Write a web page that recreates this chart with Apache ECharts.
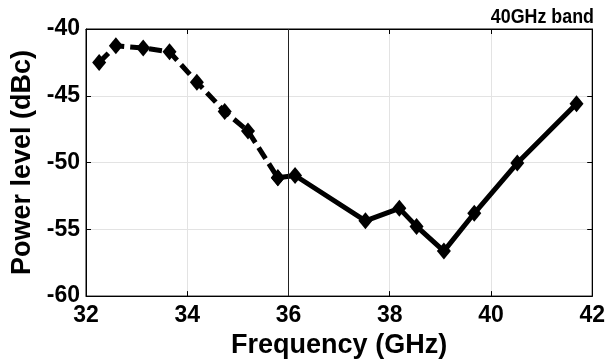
<!DOCTYPE html>
<html>
<head>
<meta charset="utf-8">
<script src="https://cdn.jsdelivr.net/npm/echarts@6/dist/echarts.min.js"></script>
<style>html,body{margin:0;padding:0;background:#fff}#c{width:608px;height:364px}</style>
</head>
<body>
<div id="c"></div>
<script>
// Data
var dashedFreq  = [32.26, 32.59, 33.13, 33.65, 34.19, 34.74, 35.20, 35.79];
var dashedPower = [-42.5, -41.25, -41.42, -41.71, -43.98, -46.18, -47.64, -51.14];
var solidFreq   = [35.79, 36.13, 37.52, 38.19, 38.53, 39.07, 39.67, 40.52, 41.69];
var solidPower  = [-51.14, -50.97, -54.36, -53.43, -54.78, -56.63, -53.80, -50.04, -45.59];
var xTicks = [32, 34, 36, 38, 40, 42];
var yTicks = [-60, -55, -50, -45, -40];
var markerX = 36;
var bandLabel = '40GHz band';
var xTitle = 'Frequency (GHz)';
var yTitle = 'Power level (dBc)';

function pairs(xs, ys) { return xs.map(function (x, i) { return [x, ys[i]]; }); }

var FONT = '"Liberation Sans", Arial, sans-serif';
var chart = echarts.init(document.getElementById('c'), null, {renderer: 'canvas'});
var tickLabel = {color: '#000', fontFamily: FONT, fontWeight: 'bold', fontSize: 23};
chart.setOption({
  animation: false,
  backgroundColor: '#fff',
  grid: {left: 86, right: 14, top: 29, bottom: 62, show: true, borderColor: '#000', borderWidth: 1},
  graphic: [{
    type: 'text', right: 14, top: 7, scaleX: 0.85,
    style: {text: bandLabel, fill: '#000', font: 'bold 21px "Liberation Sans", Arial, sans-serif'}
  }],
  xAxis: [{
    type: 'value', min: xTicks[0], max: xTicks[xTicks.length - 1], interval: 2,
    name: xTitle, nameLocation: 'middle', nameGap: 33,
    nameTextStyle: {color: '#000', fontFamily: FONT, fontWeight: 'bold', fontSize: 27},
    axisLine: {show: true, lineStyle: {color: '#000', width: 1}},
    axisTick: {show: true, inside: true, length: 5, lineStyle: {color: '#000'}},
    axisLabel: Object.assign({margin: 8}, tickLabel),
    splitLine: {show: true, lineStyle: {color: '#e3e3e3', width: 1}}
  }, {
    type: 'value', position: 'top', min: xTicks[0], max: xTicks[xTicks.length - 1], interval: 2,
    axisLine: {show: true, lineStyle: {color: '#000'}},
    axisTick: {show: true, inside: true, length: 5, lineStyle: {color: '#000'}},
    axisLabel: {show: false}, splitLine: {show: false}
  }],
  yAxis: [{
    type: 'value', min: yTicks[0], max: yTicks[yTicks.length - 1], interval: 5,
    name: yTitle, nameLocation: 'middle', nameGap: 49,
    nameTextStyle: {color: '#000', fontFamily: FONT, fontWeight: 'bold', fontSize: 27},
    axisLine: {show: true, lineStyle: {color: '#000', width: 1}},
    axisTick: {show: true, inside: true, length: 5, lineStyle: {color: '#000'}},
    axisLabel: Object.assign({margin: 6}, tickLabel),
    splitLine: {show: true, lineStyle: {color: '#e3e3e3', width: 1}}
  }, {
    type: 'value', position: 'right', min: yTicks[0], max: yTicks[yTicks.length - 1], interval: 5,
    axisLine: {show: true, lineStyle: {color: '#000'}},
    axisTick: {show: true, inside: true, length: 5, lineStyle: {color: '#000'}},
    axisLabel: {show: false}, splitLine: {show: false}
  }],
  series: [{
    type: 'line', data: pairs(dashedFreq, dashedPower),
    symbol: 'diamond', symbolSize: [14, 17],
    itemStyle: {color: '#000'},
    lineStyle: {color: '#000', width: 5, type: [13, 6]},
    markLine: {
      silent: true, symbol: ['none', 'none'], label: {show: false},
      lineStyle: {color: '#222', width: 1, type: 'solid'},
      data: [{xAxis: markerX}]
    },
    z: 3
  }, {
    type: 'line', data: pairs(solidFreq, solidPower),
    symbol: 'diamond', symbolSize: [14, 17],
    itemStyle: {color: '#000'},
    lineStyle: {color: '#000', width: 5, type: 'solid'},
    z: 3
  }]
});
</script>
</body>
</html>
